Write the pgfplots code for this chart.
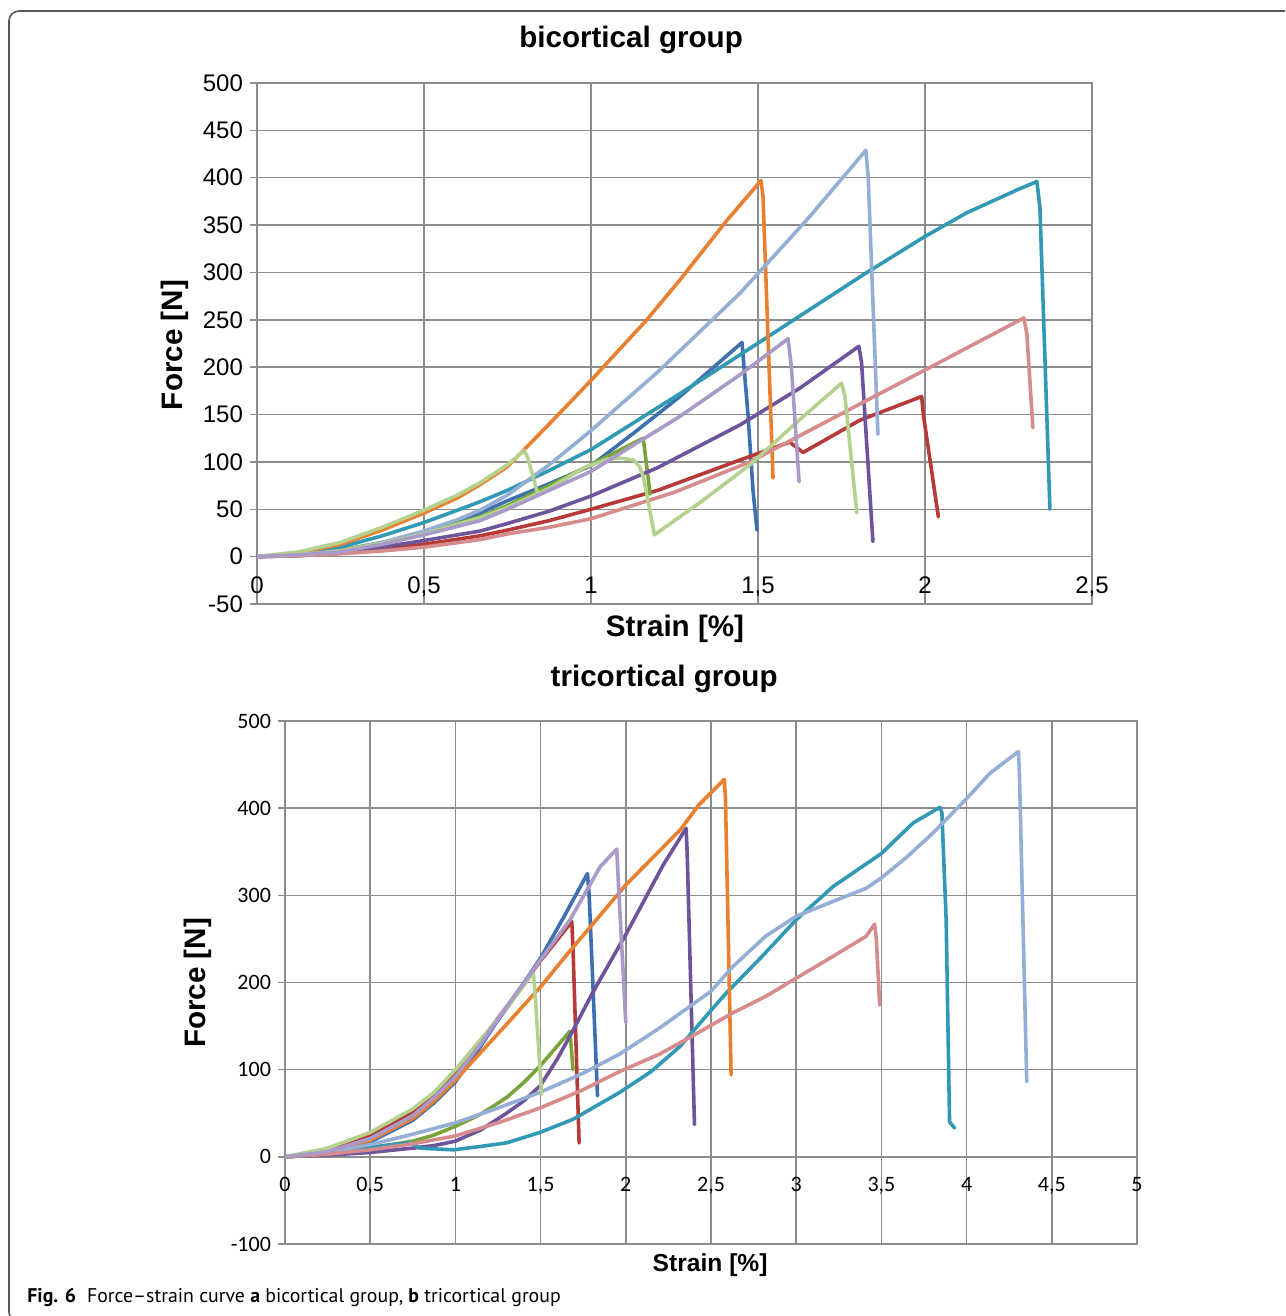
\documentclass[border=0pt]{standalone}
\usepackage{fontspec}
\setmainfont{Liberation Sans}
\newfontfamily\calibri{Carlito}
\newfontfamily\capfont{PT Sans}
\usepackage{pgfplots}
\pgfplotsset{compat=1.18}

\definecolor{gridgray}{RGB}{140,140,140}
\definecolor{cBlue}{RGB}{62,112,176}
\definecolor{cRed}{RGB}{182,58,56}
\definecolor{cOlive}{RGB}{122,164,58}
\definecolor{cPurple}{RGB}{110,84,154}
\definecolor{cTeal}{RGB}{50,153,180}
\definecolor{cOrange}{RGB}{232,128,48}
\definecolor{cLBlue}{RGB}{148,174,214}
\definecolor{cPink}{RGB}{214,140,140}
\definecolor{cLGreen}{RGB}{180,210,142}
\definecolor{cLav}{RGB}{170,154,200}

\pgfplotsset{excel/.style={
    scale only axis,
    grid=major,
    grid style={line width=0.75pt, gridgray},
    axis line style={line width=0.75pt, gridgray},
    xtick style={draw=none},
    ytick style={line width=0.75pt, gridgray},
    ytick align=outside, ytick pos=left,
    major tick length=3.5pt,
    /pgf/number format/use comma,
    /pgf/number format/assume math mode=true,
    every axis plot/.append style={line width=1.8pt, line join=round, line cap=round, mark=none},
    xlabel style={font=\bfseries\fontsize{14.8}{16}\selectfont},
    ylabel style={font=\bfseries\fontsize{14.8}{16}\selectfont},
}}

\begin{document}
\begin{tikzpicture}
\path[use as bounding box] (0,0) rectangle (642.5pt,658pt);
\clip (0,0) rectangle (642.5pt,658pt);
\draw[line width=0.8pt, black!65, rounded corners=5pt] (4.5pt,-3pt) rectangle (660pt,652.5pt);

% a: bicortical group
\begin{axis}[excel,
    at={(128.5pt,356pt)}, anchor=south west,
    width=417.5pt, height=260.5pt,
    xmin=0, xmax=2.5, ymin=-50, ymax=500,
    xtick={0,0.5,1,1.5,2,2.5},
    ytick={-50,0,50,100,150,200,250,300,350,400,450,500},
    ticklabel style={font=\fontsize{12}{14}\selectfont},
    xticklabel style={anchor=base, yshift=5.35pt},
    title={bicortical group},
    every axis title/.style={at={(axis description cs:0.448,1.083)}, anchor=center, font=\bfseries\fontsize{14.8}{16}\selectfont},
    xlabel={Strain [\%]},
    xlabel style={at={(axis description cs:0.5006,-0.048)}, anchor=center},
    ylabel={Force [N]},
    ylabel style={at={(axis description cs:-0.098,0.497)}, anchor=center},
]
\addplot[cBlue] coordinates {(0,0) (0.125,2) (0.25,6) (0.375,14) (0.5,25) (0.6,36) (0.668,46) (0.75,59) (0.875,77) (1.0,96) (1.13,131) (1.266,169) (1.452,226) (1.47,150) (1.485,70) (1.497,28)};
\addplot[cRed] coordinates {(0,0) (0.125,1) (0.25,4) (0.375,8) (0.5,13) (0.668,22) (0.75,28) (0.875,38) (1.0,50) (1.2,70) (1.446,102) (1.596,121) (1.605,118) (1.635,110) (1.66,115) (1.805,144) (1.99,169) (1.995,150) (2.04,42)};
\addplot[cOlive] coordinates {(0,0) (0.125,2) (0.25,7) (0.375,15) (0.5,26) (0.6,35) (0.668,42) (0.75,54) (0.875,75) (1.0,97) (1.156,125) (1.16,115) (1.177,66)};
\addplot[cPurple] coordinates {(0,0) (0.125,1) (0.25,5) (0.375,10) (0.5,17) (0.668,27) (0.75,35) (0.875,48) (1.0,64) (1.2,94) (1.446,139) (1.626,178) (1.802,222) (1.81,205) (1.844,16)};
\addplot[cTeal] coordinates {(0,0) (0.125,3) (0.25,10) (0.375,22) (0.5,36) (0.6,49) (0.668,58) (0.75,70) (0.875,91) (1.0,113) (1.266,172) (1.446,213) (1.826,300) (2.0,338) (2.125,363) (2.275,387) (2.335,396) (2.344,369) (2.374,50)};
\addplot[cOrange] coordinates {(0,0) (0.125,4) (0.25,13) (0.375,28) (0.5,46) (0.6,62) (0.668,76) (0.75,95) (0.875,140) (1.0,186) (1.167,250) (1.266,292) (1.407,355) (1.509,397) (1.515,380) (1.545,83)};
\addplot[cLBlue] coordinates {(0,0) (0.125,2) (0.25,6) (0.375,15) (0.5,27) (0.6,39) (0.668,49) (0.75,65) (0.875,97) (1.0,133) (1.2,195) (1.446,278) (1.65,357) (1.823,429) (1.83,400) (1.859,129)};
\addplot[cPink] coordinates {(0,0) (0.125,1) (0.25,3) (0.375,6) (0.5,10) (0.668,18) (0.75,24) (0.875,31) (1.0,40) (1.25,68) (1.476,100) (1.826,165) (2.0,197) (2.296,252) (2.305,235) (2.323,136)};
\addplot[cLGreen] coordinates {(0,0) (0.125,5) (0.25,15) (0.375,31) (0.5,49) (0.6,65) (0.668,78) (0.75,97) (0.8,112) (0.81,105) (0.84,67)};
\addplot[cLGreen] coordinates {(0,0) (0.125,2) (0.25,6) (0.375,14) (0.5,24) (0.668,41) (0.75,52) (0.875,72) (0.98,94) (1.05,103) (1.087,104) (1.127,102) (1.145,95) (1.157,84) (1.19,23) (1.326,57) (1.476,97) (1.626,145) (1.75,183) (1.76,170) (1.796,46)};
\addplot[cLav] coordinates {(0,0) (0.125,2) (0.25,5) (0.375,13) (0.5,23) (0.668,38) (0.75,50) (0.875,70) (1.0,90) (1.266,148) (1.446,192) (1.59,230) (1.6,200) (1.623,79)};
\end{axis}

% b: tricortical group
\begin{axis}[excel,
    at={(142.5pt,36pt)}, anchor=south west,
    width=426pt, height=261.5pt,
    xmin=0, xmax=5, ymin=-100, ymax=500,
    xtick={0,0.5,1,1.5,2,2.5,3,3.5,4,4.5,5},
    ytick={-100,0,100,200,300,400,500},
    ticklabel style={font=\calibri\fontsize{11}{13}\selectfont},
    xticklabel style={anchor=base, yshift=26.15pt},
    title={tricortical group},
    every axis title/.style={at={(axis description cs:0.445,1.080)}, anchor=center, font=\bfseries\fontsize{14.8}{16}\selectfont},
    xlabel={Strain [\%]},
    xlabel style={at={(axis description cs:0.499,-0.040)}, anchor=center, font=\bfseries\fontsize{12.3}{14}\selectfont},
    ylabel={Force [N]},
    ylabel style={at={(axis description cs:-0.102,0.499)}, anchor=center},
]
\addplot[cBlue] coordinates {(0,0) (0.25,4) (0.5,17) (0.75,42) (0.875,62) (1.0,86) (1.125,120) (1.243,155) (1.3,170) (1.4,199) (1.5,228) (1.65,280) (1.775,325) (1.785,300) (1.834,70)};
\addplot[cRed] coordinates {(0,0) (0.25,8) (0.5,24) (0.75,52) (0.875,70) (1.0,95) (1.15,133) (1.3,172) (1.5,225) (1.683,270) (1.69,240) (1.726,16)};
\addplot[cOlive] coordinates {(0,0) (0.25,3) (0.5,10) (0.75,18) (0.875,25) (1.0,35) (1.15,49) (1.3,68) (1.4,85) (1.496,104) (1.672,144) (1.68,125) (1.69,100)};
\addplot[cPurple] coordinates {(0,0) (0.25,2) (0.5,5) (0.75,10) (0.875,13) (1.0,18) (1.15,31) (1.3,50) (1.4,64) (1.5,82) (1.6,113) (1.69,145) (1.81,190) (2.0,255) (2.22,335) (2.354,377) (2.36,350) (2.403,37)};
\addplot[cTeal] coordinates {(0,0) (0.25,4) (0.5,11) (0.715,16) (0.75,15) (0.79,10) (0.99,8) (1.15,12) (1.3,16) (1.496,28) (1.69,43) (1.965,74) (2.15,98) (2.32,127) (2.5,168) (2.59,188) (2.8,230) (3.0,272) (3.216,310) (3.5,348) (3.686,383) (3.843,401) (3.855,395) (3.88,272) (3.90,40) (3.93,33)};
\addplot[cOrange] coordinates {(0,0) (0.25,5) (0.5,19) (0.75,44) (0.875,64) (1.0,88) (1.15,120) (1.3,152) (1.5,195) (1.633,227) (2.0,312) (2.319,375) (2.43,404) (2.578,433) (2.585,410) (2.618,94)};
\addplot[cLBlue] coordinates {(0,0) (0.25,5) (0.5,14) (0.75,26) (1.0,39) (1.25,56) (1.496,74) (1.75,96) (1.965,118) (2.2,148) (2.5,190) (2.627,218) (2.82,253) (3.0,276) (3.216,293) (3.41,308) (3.5,320) (3.65,344) (3.8,371) (4.0,411) (4.137,440) (4.304,465) (4.31,440) (4.353,86)};
\addplot[cPink] coordinates {(0,0) (0.25,3) (0.5,8) (0.75,15) (1.0,24) (1.25,39) (1.496,56) (1.75,77) (1.965,98) (2.2,118) (2.43,143) (2.627,165) (2.82,184) (3.0,205) (3.216,230) (3.41,253) (3.46,267) (3.47,250) (3.49,174)};
\addplot[cLGreen] coordinates {(0,0) (0.25,10) (0.5,28) (0.75,55) (0.875,74) (1.0,100) (1.15,135) (1.3,170) (1.457,211) (1.465,195) (1.506,72)};
\addplot[cLav] coordinates {(0,0) (0.25,6) (0.5,21) (0.75,47) (0.875,68) (1.0,92) (1.15,130) (1.3,172) (1.5,226) (1.673,272) (1.85,333) (1.947,353) (1.955,320) (2.0,154)};
\end{axis}

\node[anchor=base west, font=\capfont\fontsize{9.9}{12}\selectfont, inner sep=0pt] at (13.5pt,6.5pt)
  {\textbf{Fig. 6}\hspace{0.55em}Force–strain curve \textbf{a} bicortical group, \textbf{b} tricortical group};
\end{tikzpicture}
\end{document}
